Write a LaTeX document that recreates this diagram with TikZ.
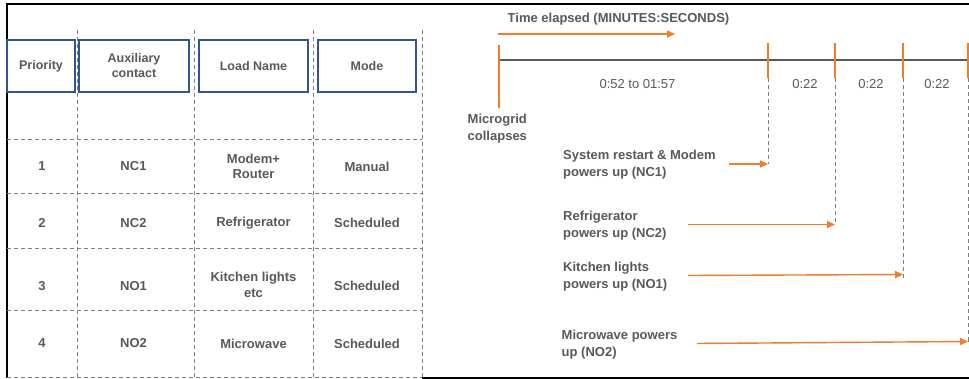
\documentclass[tikz,border=0pt]{standalone}
\usepackage{fontspec}
\setmainfont{Liberation Sans}
\usetikzlibrary{arrows.meta}
\definecolor{og}{HTML}{F07C2C}
\definecolor{tg}{HTML}{595959}
\definecolor{bb}{HTML}{2F5597}
\definecolor{dg}{HTML}{808080}
\begin{document}
\begin{tikzpicture}[x=1pt,y=-1pt,
  txt/.style={font=\fontsize{13}{15.5}\selectfont\bfseries, text=tg, inner sep=0pt, align=center},
  htxt/.style={font=\fontsize{12.5}{15}\selectfont\bfseries, text=tg, align=center},
  ltxt/.style={font=\fontsize{13}{17}\selectfont\bfseries, text=tg, inner sep=0pt, align=left, anchor=west},
  ntxt/.style={font=\fontsize{13}{15}\selectfont, text=tg, inner sep=0pt},
  hbox/.style={draw=bb, line width=1.2pt, minimum height=52pt, inner sep=0pt, htxt},
  tdash/.style={draw=dg, line width=1pt, dash pattern=on 4pt off 3pt},
  frame/.style={draw=black, line width=2pt},
  tick/.style={draw=og, line width=2.6pt},
  oarrow/.style={draw=og, line width=1.4pt, -{Triangle[length=8pt,width=7pt]}},
  tline/.style={draw=tg, line width=2.4pt}]
\useasboundingbox (0,0) rectangle (969,379);
\fill[white] (0,0) rectangle (969,379);

% frame
\coordinate (fTL) at (7,4.5);
\coordinate (fTR) at (969,4.5);
\coordinate (fBL) at (7,378);
\coordinate (fB1) at (422,377.5);
\coordinate (fBR) at (969,377.5);
\draw[frame] (fTR) -- (fTL) -- (fBL);
\draw[frame] (fB1) -- (fBR);

% table grid
\foreach \x [count=\i] in {77,194,313,422} {
  \coordinate (vt\i) at (\x,30);
  \coordinate (vb\i) at (\x,377);
  \draw[tdash] (vt\i) -- (vb\i);
}
\foreach \y [count=\i] in {140,194,249,311,377} {
  \coordinate (hl\i) at (7,\y);
  \coordinate (hr\i) at (422,\y);
  \draw[tdash] (hl\i) -- (hr\i);
}

% header
\node[hbox, minimum width=68pt] (hP) at (41,66) {Priority};
\node[hbox, minimum width=110pt] (hA) at (134,66) {Auxiliary\\contact};
\node[hbox, minimum width=109pt] (hL) at (253.5,66) {Load Name};
\node[hbox, minimum width=98pt] (hM) at (367,66) {Mode};

% rows
\node[txt] (p1) at (42,166.5) {1};
\node[txt] (a1) at (133.5,166.5) {NC1};
\node[txt] (l1) at (253.5,166.5) {Modem+\\Router};
\node[txt] (m1) at (367,166.5) {Manual};

\node[txt] (p2) at (42,223) {2};
\node[txt] (a2) at (133.5,223) {NC2};
\node[txt] (l2) at (253.5,223) {Refrigerator};
\node[txt] (m2) at (367,223) {Scheduled};

\node[txt] (p3) at (42,286) {3};
\node[txt] (a3) at (133.5,286) {NO1};
\node[txt] (l3) at (253.5,285) {Kitchen lights\\etc};
\node[txt] (m3) at (367,286) {Scheduled};

\node[txt] (p4) at (42,343.5) {4};
\node[txt] (a4) at (133.5,343.5) {NO2};
\node[txt] (l4) at (253.5,343.5) {Microwave};
\node[txt] (m4) at (367,343.5) {Scheduled};

% timeline
\node[txt] (te) at (618.5,19) {Time elapsed (MINUTES:SECONDS)};
\coordinate (teS) at (498,34);
\coordinate (teE) at (675,34);
\draw[oarrow] (teS) -- (teE);

\coordinate (tl0) at (499,60);
\coordinate (tlE) at (969,60);
\draw[tline] (tl0) -- (tlE);

\coordinate (k0t) at (499,45);  \coordinate (k0b) at (499,108);
\draw[tick] (k0t) -- (k0b);
\foreach \x [count=\i] in {768,835,903,968} {
  \coordinate (k\i t) at (\x,43.5);
  \coordinate (k\i b) at (\x,78.5);
  \draw[tick] (k\i t) -- (k\i b);
}

\node[ntxt] (d0) at (637.5,84.5) {0:52 to 01:57};
\node[ntxt] (d1) at (805,84.5) {0:22};
\node[ntxt] (d2) at (871,84.5) {0:22};
\node[ntxt] (d3) at (937,84.5) {0:22};

\node[ltxt] (mc) at (467.5,128.5) {Microgrid\\collapses};
\node[ltxt] (n1) at (563,165) {System restart \& Modem\\powers up (NC1)};
\node[ltxt] (n2) at (563,225.5) {Refrigerator\\powers up (NC2)};
\node[ltxt] (n3) at (563,276.5) {Kitchen lights\\powers up (NO1)};
\node[ltxt] (n4) at (561.5,345) {Microwave powers\\up (NO2)};

% dashed drops and arrows
\coordinate (e1) at (768,164);
\coordinate (e2) at (835,224.5);
\coordinate (e3) at (903,274.5);
\coordinate (e3b) at (903,280);
\coordinate (e4) at (968,341.5);
\draw[tdash] (k1b) -- (e1);
\draw[tdash] (k2b) -- (e2);
\draw[tdash] (k3b) -- (e3b);
\draw[tdash] (k4b) -- (e4);

\coordinate (s1) at (729,164);
\coordinate (s2) at (688,224.5);
\coordinate (s3) at (688,275.5);
\coordinate (s4) at (697,343.5);
\draw[oarrow] (s1) -- (e1);
\draw[oarrow] (s2) -- (e2);
\draw[oarrow] (s3) -- (e3);
\draw[oarrow] (s4) -- (e4);
\end{tikzpicture}
\end{document}
